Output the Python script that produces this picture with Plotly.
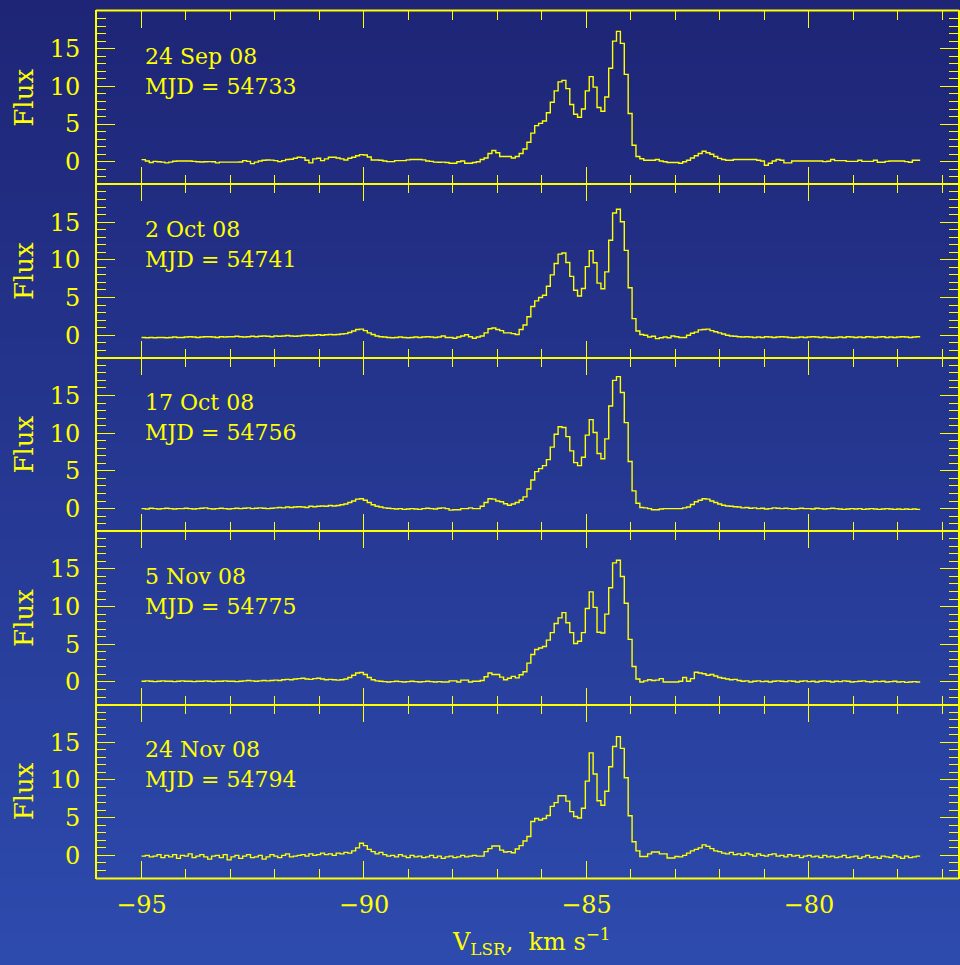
import plotly.graph_objects as go
import numpy as np

# ---------------- data ----------------
v_start = -95.0
v_step = 0.0875   # channel width, km/s
n_chan = 200

dates = ["24 Sep 08", "2 Oct 08", "17 Oct 08", "5 Nov 08", "24 Nov 08"]
mjds = ["54733", "54741", "54756", "54775", "54794"]
x_ticks = [-95, -90, -85, -80]
y_ticks = [0, 5, 10, 15]

flux_p1 = [
    0.29, 0.1, -0.1, 0.05, 0.0, -0.05, -0.15, -0.05, 0.07, 0.1,
    0.1, 0.1, 0.1, 0.05, 0.0, -0.02, 0.0, 0.02, 0.0, -0.15,
    -0.05, -0.05, -0.05, -0.05, -0.05, -0.02, 0.15, 0.05, -0.24, -0.05,
    0.1, 0.2, 0.24, 0.22, 0.15, 0.02, 0.15, 0.3, 0.33, 0.46,
    0.6, 0.55, 0.2, -0.15, 0.38, 0.46, 0.15, 0.38, 0.6, 0.6,
    0.5, 0.38, 0.24, 0.46, 0.6, 0.8, 0.95, 0.9, 0.64, 0.24,
    0.24, 0.2, 0.1, 0.02, 0.02, 0.15, 0.15, 0.15, 0.25, 0.3,
    0.3, 0.3, 0.25, 0.1, 0.05, -0.05, -0.07, -0.05,
    -0.1, -0.2, -0.2, 0.0, 0.1, -0.2, -0.2, -0.1, 0.0, 0.3,
    0.5, 1.1, 1.5, 1.2, 0.7, 0.7, 0.7, 0.5, 0.7, 1.1,
    1.7, 2.6, 3.8, 4.8, 5.1, 5.4, 6.5, 7.9, 9.4, 10.6,
    10.8, 9.7, 7.6, 6.3, 5.9, 7.0, 9.4, 11.3, 9.9, 7.2,
    6.7, 8.6, 12.4, 16.0, 17.3, 15.7, 11.6, 6.4, 2.2, 0.7,
    0.4, 0.2, 0.2, 0.2, 0.3, 0.1, 0.0, -0.1, -0.1, -0.1,
    -0.2, 0.0, 0.2, 0.5, 0.8, 1.1,
    1.4, 1.2, 1.0, 0.7, 0.45, 0.3, 0.2, 0.2, 0.3, 0.3,
    0.3, 0.3, 0.3, 0.3, 0.2, 0.1, -0.45, -0.2, 0.1, 0.3,
    0.2, -0.15, -0.15, 0.1, 0.1, 0.1, 0.1, 0.1, 0.1, 0.1,
    0.1, 0.02, 0.07, 0.3, 0.15, 0.15, 0.15, 0.05, 0.05, 0.05,
    0.2, 0.05, 0.05, 0.05, 0.2, -0.07, -0.07, 0.05, 0.1, 0.1,
    0.1, 0.1, 0.02, -0.07, 0.2, 0.2,
]

flux_p2 = [
    -0.3, -0.35, -0.3, -0.35, -0.3, -0.3, -0.35, -0.3, -0.25, -0.3,
    -0.3, -0.25, -0.2, -0.25, -0.3, -0.25, -0.2, -0.2, -0.25, -0.3,
    -0.2, -0.25, -0.2, -0.2, -0.15, -0.2, -0.25, -0.2, -0.15, -0.2,
    -0.15, -0.1, -0.15, -0.2, -0.1, -0.15, -0.1, -0.05, -0.1, -0.15,
    -0.1, -0.05, 0.0, -0.05, 0.0, 0.05, 0.0, 0.05, 0.1, 0.05,
    0.1, 0.15, 0.2, 0.35, 0.55, 0.75, 0.8, 0.6, 0.3, 0.1,
    -0.1, -0.2, -0.25, -0.3, -0.35, -0.3, -0.25, -0.3, -0.35, -0.3,
    -0.25, -0.3, -0.25, -0.2, -0.25, -0.3, -0.25,
    -0.1, -0.3, -0.3, -0.4, -0.25, -0.1, 0.05, -0.2, -0.4, -0.25,
    -0.1, 0.3, 0.85, 0.95, 0.75, 0.6, 0.3, 0.3, 0.2, 0.1,
    0.75, 1.35, 2.45, 3.8, 4.55, 5.0, 5.3, 6.5, 8.0, 9.5,
    10.75, 10.9, 9.65, 7.8, 5.95, 5.2, 6.2, 9.1, 11.2, 9.6,
    6.9, 6.15, 8.4, 12.6, 16.2, 16.7, 15.05, 11.25, 6.3, 2.2,
    0.55, 0.1, 0.0, -0.25, -0.15, -0.45, -0.35, -0.25, -0.35, -0.1,
    -0.2, -0.3, -0.3, 0.0, 0.25, 0.4, 0.7,
    0.75, 0.8, 0.6, 0.45, 0.3, 0.15, 0.0, -0.1, -0.15, -0.2,
    -0.25, -0.2, -0.25, -0.3, -0.25, -0.3, -0.2, -0.25, -0.3, -0.25,
    -0.2, -0.25, -0.3, -0.35, -0.3, -0.25, -0.3, -0.25, -0.2, -0.25,
    -0.3, -0.25, -0.3, -0.35, -0.3, -0.25, -0.3, -0.2, -0.25, -0.3,
    -0.25, -0.3, -0.2, -0.25, -0.3, -0.25, -0.2, -0.3, -0.25, -0.3,
    -0.25, -0.2, -0.25, -0.3, -0.25, -0.2,
]

flux_p3 = [
    0.0, -0.05, 0.05, 0.0, -0.05, 0.0, 0.05, 0.0, -0.05, 0.0,
    0.0, 0.05, 0.0, -0.05, 0.0, 0.05, 0.1, 0.0, -0.05, 0.0,
    0.05, 0.0, -0.05, 0.0, 0.05, 0.0, 0.05, 0.1, 0.0, 0.05,
    0.1, 0.05, 0.0, 0.05, 0.1, 0.15, 0.1, 0.2, 0.15, 0.2,
    0.25, 0.2, 0.15, 0.3, 0.25, 0.3, 0.35, 0.3, 0.4, 0.35,
    0.4, 0.5, 0.6, 0.8, 1.0, 1.25, 1.3, 1.1, 0.8, 0.5,
    0.3, 0.2, 0.1, 0.05, 0.0, -0.05, 0.0, -0.1, -0.05, 0.0,
    -0.05, -0.1, 0.0, 0.05, 0.0, -0.05, 0.05,
    0.1, 0.0, -0.2, -0.15, -0.15, 0.0, 0.0, 0.1, 0.0, 0.0,
    0.3, 0.8, 1.3, 1.25, 1.0, 0.9, 0.65, 0.45, 0.6, 0.8,
    1.1, 1.55, 2.6, 3.8, 4.9, 5.3, 5.7, 6.5, 8.15, 9.85,
    10.85, 10.75, 9.55, 7.65, 6.1, 5.7, 6.8, 9.75, 11.8, 10.1,
    7.3, 6.6, 9.25, 13.6, 17.0, 17.5, 15.4, 11.4, 6.25, 2.35,
    0.7, 0.15, 0.1, 0.0, -0.15, -0.15, -0.05, 0.0, 0.0, 0.0,
    0.0, 0.0, 0.1, 0.2, 0.55, 0.9, 1.1,
    1.3, 1.25, 1.0, 0.8, 0.6, 0.45, 0.35, 0.3, 0.25, 0.2,
    0.1, 0.15, 0.05, 0.1, 0.0, 0.05, -0.05, 0.0, 0.1, 0.05,
    0.0, 0.05, 0.0, -0.05, 0.0, 0.05, 0.0, 0.0, -0.05, 0.05,
    0.0, -0.05, 0.0, 0.05, 0.0, -0.05, -0.1, -0.05, 0.0, -0.05,
    0.0, -0.1, -0.05, 0.0, -0.05, -0.1, -0.05, 0.0, -0.05, -0.1,
    -0.05, -0.1, -0.05, -0.1, -0.05, -0.1,
]

flux_p4 = [
    0.1, 0.15, 0.1, 0.05, 0.1, 0.15, 0.1, 0.1, 0.05, 0.1,
    0.15, 0.1, 0.1, 0.05, 0.1, 0.1, 0.15, 0.1, 0.05, 0.1,
    0.1, 0.15, 0.1, 0.1, 0.05, 0.1, 0.15, 0.2, 0.15, 0.1,
    0.15, 0.2, 0.15, 0.2, 0.25, 0.2, 0.3, 0.35, 0.3, 0.4,
    0.45, 0.5, 0.4, 0.35, 0.45, 0.5, 0.4, 0.3, 0.35, 0.3,
    0.25, 0.3, 0.4, 0.6, 0.9, 1.2, 1.25, 1.0, 0.6, 0.3,
    0.15, 0.1, 0.05, 0.0, 0.05, 0.1, 0.05, 0.0, 0.05, 0.1,
    0.05, 0.0, 0.05, 0.1, 0.05, 0.0, 0.05,
    0.0, 0.0, 0.15, 0.15, 0.0, 0.25, 0.25, 0.0, 0.1, 0.1,
    0.2, 0.7, 1.2, 1.0, 1.0, 0.65, 0.3, 0.5, 0.75, 0.55,
    0.95, 1.35, 2.5, 3.65, 4.3, 4.5, 4.7, 5.55, 6.55, 7.75,
    8.5, 9.2, 7.85, 6.55, 5.1, 5.4, 6.55, 9.75, 11.95, 9.9,
    6.6, 6.5, 9.0, 12.5, 15.8, 16.15, 14.0, 10.45, 5.65, 2.05,
    0.4, 0.0, 0.15, 0.3, 0.2, 0.25, 0.45, 0.0, 0.0, 0.0,
    0.0, 0.1, 0.6, 0.1, 0.45, 1.3, 1.2,
    1.1, 0.9, 1.0, 0.8, 0.6, 0.5, 0.4, 0.3, 0.35, 0.2,
    0.1, 0.15, 0.0, 0.1, 0.15, 0.05, 0.1, 0.0, 0.1, 0.15,
    0.1, 0.05, 0.15, 0.1, 0.0, 0.1, 0.15, 0.05, 0.1, 0.0,
    0.1, 0.15, 0.1, 0.0, 0.1, 0.05, 0.15, 0.1, 0.0, 0.05,
    0.1, 0.15, 0.05, 0.0, 0.1, 0.05, 0.1, 0.0, 0.05, 0.1,
    0.0, 0.05, -0.05, 0.0, 0.05, 0.0,
]

flux_p5 = [
    -0.1, 0.0, -0.2, -0.1, 0.1, -0.3, 0.0, -0.2, 0.1, -0.4,
    0.0, -0.1, 0.2, -0.3, -0.1, 0.1, -0.2, -0.5, -0.1, 0.0,
    -0.3, 0.1, -0.6, -0.2, 0.0, -0.4, -0.1, 0.1, -0.3, -0.2,
    0.0, -0.5, -0.2, 0.1, -0.1, -0.3, 0.0, 0.2, -0.2, -0.1,
    0.0, 0.1, -0.1, 0.2, 0.0, 0.1, 0.3, 0.1, 0.2, 0.0,
    0.3, 0.2, 0.4, 0.3, 0.6, 1.0, 1.6, 1.3, 0.8, 0.5,
    0.2, 0.4, 0.1, -0.1, 0.0, -0.2, 0.1, -0.1, -0.3, 0.0,
    -0.2, -0.1, -0.3, -0.2, 0.0, -0.3, -0.1, -0.4, -0.2, -0.1,
    -0.3, -0.2, 0.0, -0.2, -0.1, 0.0, -0.1,
    -0.1, 0.5, 0.9, 1.25, 1.25, 0.7, 0.45, 0.5, 0.35, 0.85,
    1.3, 1.9, 2.5, 4.5, 4.9, 4.7, 4.9, 5.3, 6.5, 7.0,
    7.9, 7.9, 7.2, 5.8, 5.15, 4.95, 6.25, 9.85, 13.6, 10.8,
    7.25, 6.65, 8.5, 11.75, 14.45, 15.75, 14.2, 10.3, 5.25, 1.8,
    0.6, -0.15, -0.15, 0.2, 0.45, 0.45, 0.2, 0.2, -0.35, -0.35,
    -0.15,
    -0.2, 0.0, 0.3, 0.6, 0.8, 1.0, 1.4, 1.2, 0.9, 0.6,
    0.5, 0.3, 0.2, 0.4, 0.1, 0.2, 0.0, 0.3, 0.1, -0.1,
    0.2, 0.0, -0.1, 0.1, 0.2, -0.1, 0.0, -0.2, 0.1, -0.1,
    0.0, -0.3, -0.1, 0.0, -0.2, -0.1, -0.3, 0.0, -0.2, -0.1,
    -0.3, -0.2, 0.0, -0.3, -0.2, -0.1, -0.4, -0.2, 0.0, -0.3,
    -0.2, -0.4, -0.1, -0.2, -0.3, 0.0, -0.2, -0.4, -0.1, -0.3,
    -0.2, -0.1,
]

panels = [flux_p1, flux_p2, flux_p3, flux_p4, flux_p5]

# ---------------- styling ----------------
W, H = 960, 965
YEL = "#ffff00"
FONT = "DejaVu Serif"
x_left, x_right = 97, 958
top0, ph = 11.0, 173.4
x_range = [-96.0, -76.65]
y_range = [-3, 20]

edges = v_start + v_step * np.arange(n_chan + 1)

fig = go.Figure()
layout = {}
annotations = []
for i, flux in enumerate(panels):
    assert len(flux) == n_chan, (i, len(flux))
    yv = list(flux) + [flux[-1]]
    sfx = "" if i == 0 else str(i + 1)
    fig.add_trace(go.Scatter(
        x=edges, y=yv, mode="lines", line=dict(color=YEL, width=1.4, shape="hv"),
        xaxis="x" + sfx, yaxis="y" + sfx, showlegend=False, hoverinfo="skip"))
    top = top0 + i * ph
    bot = top + ph
    dom_y = [1 - bot / H, 1 - top / H]
    common = dict(showline=True, mirror="allticks", linecolor=YEL,
                  ticks="inside", tickcolor=YEL, tickwidth=1.2,
                  showgrid=False, zeroline=False, automargin=False,
                  tickfont=dict(family=FONT, size=24, color=YEL))
    layout["xaxis" + sfx] = dict(
        common, linewidth=1.1, domain=[x_left / W, x_right / W], range=x_range,
        anchor="y" + sfx, tickvals=x_ticks,
        ticktext=["\u2212%d" % abs(t) for t in x_ticks], ticklen=17,
        minor=dict(ticks="inside", dtick=1, tick0=0, ticklen=9, tickcolor=YEL,
                   tickwidth=1.2),
        showticklabels=(i == 4), ticklabelstandoff=5)
    layout["yaxis" + sfx] = dict(
        common, linewidth=2, domain=dom_y, range=y_range, anchor="x" + sfx,
        tickvals=y_ticks, ticklen=18,
        minor=dict(ticks="inside", dtick=1, tick0=0, ticklen=9, tickcolor=YEL,
                   tickwidth=1.2),
        ticklabelstandoff=10)
    annotations.append(dict(x=143 / W, y=1 - (top + 45) / H, xref="paper", yref="paper",
                            text=dates[i], showarrow=False, xanchor="left", yanchor="middle",
                            font=dict(family=FONT, size=22, color=YEL)))
    annotations.append(dict(x=143 / W, y=1 - (top + 75) / H, xref="paper", yref="paper",
                            text="MJD = " + mjds[i], showarrow=False, xanchor="left",
                            yanchor="middle", font=dict(family=FONT, size=22, color=YEL)))
    annotations.append(dict(x=24 / W, y=1 - (top + ph / 2) / H, xref="paper", yref="paper",
                            text="Flux", showarrow=False, textangle=-90, xanchor="center",
                            yanchor="middle", font=dict(family=FONT, size=26, color=YEL)))

annotations.append(dict(x=531 / W, y=1 - 941 / H, xref="paper", yref="paper",
                        text="V<sub>LSR</sub>,  km s<sup>\u22121</sup>", showarrow=False,
                        xanchor="center", yanchor="middle",
                        font=dict(family=FONT, size=24, color=YEL)))

# background gradient (dark navy at top to lighter blue at bottom)
c_top = np.array([30, 37, 118])
c_bot = np.array([45, 75, 174])
n_strips = 120
shapes = []
for s in range(n_strips):
    f = (s + 0.5) / n_strips
    c = (c_top * (1 - f) + c_bot * f).round().astype(int)
    shapes.append(dict(type="rect", xref="paper", yref="paper", x0=0, x1=1,
                       y0=1 - (s + 1) / n_strips - 0.001, y1=1 - s / n_strips,
                       fillcolor="rgb(%d,%d,%d)" % tuple(c), line=dict(width=0),
                       layer="below"))

# thicker outer top / bottom frame lines (inner separators are double lines)
for ypix in (top0 - 0.5, top0 + 5 * ph + 0.5):
    shapes.append(dict(type="line", xref="paper", yref="paper",
                       x0=(x_left - 1) / W, x1=(x_right + 1) / W,
                       y0=1 - ypix / H, y1=1 - ypix / H,
                       line=dict(color=YEL, width=2), layer="above"))

fig.update_layout(width=W, height=H, margin=dict(l=0, r=0, t=0, b=0, autoexpand=False),
                  paper_bgcolor="rgb(37,56,146)", plot_bgcolor="rgba(0,0,0,0)",
                  annotations=annotations, shapes=shapes, **layout)
fig.write_html("out.html")
